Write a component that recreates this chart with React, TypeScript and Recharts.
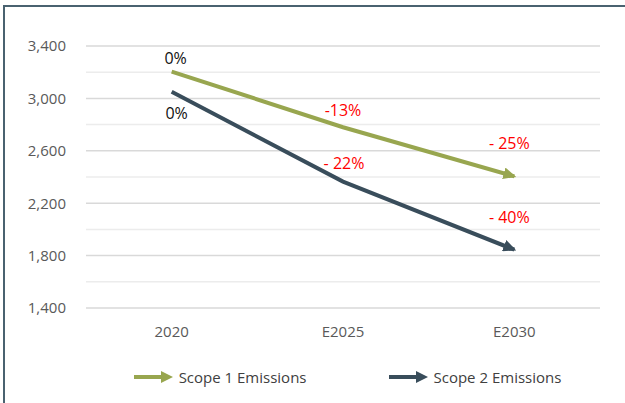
import { LineChart, Line, XAxis, YAxis, CartesianGrid, Legend, LabelList } from 'recharts'

// ── Data ─────────────────────────────────────────────────────────────

const CATEGORIES = ['2020', 'E2025', 'E2030']
const SCOPE1 = [3205, 2780, 2405]
const SCOPE2 = [3050, 2365, 1845]
const SCOPE1_LABELS = ['0%', '-13%', '- 25%']
const SCOPE2_LABELS = ['0%', '- 22%', '- 40%']
const Y_TICKS = [1400, 1800, 2200, 2600, 3000, 3400]
const Y_MINOR = [1600, 2000, 2400, 2800, 3200]

const data = CATEGORIES.map((cat, i) => ({
  cat,
  s1: SCOPE1[i],
  s2: SCOPE2[i],
  s1Label: SCOPE1_LABELS[i],
  s2Label: SCOPE2_LABELS[i],
}))

// ── Styling ──────────────────────────────────────────────────────────

const OLIVE = '#98a64f'
const SLATE = '#394d5b'
const FONT = '"Open Sans", "Noto Sans", sans-serif'

// label offsets (dx, dy) from each point, per series
const S1_OFFSETS = [[4, -14], [0, -17], [-5, -33]]
const S2_OFFSETS = [[5, 21], [1, -19], [-5, -33]]

const makeLabel = (offsets: number[][]) => (props: any) => {
  const { x, y, index, value } = props
  const [dx, dy] = offsets[index] ?? [0, 0]
  const isZero = value === '0%'
  return (
    <text
      x={x + dx}
      y={y + dy}
      textAnchor="middle"
      dominantBaseline="central"
      fontSize={16}
      fontFamily={FONT}
      fill={isZero ? '#111111' : '#ff0000'}
    >
      {value}
    </text>
  )
}

function ArrowIcon({ color }: { color: string }) {
  return (
    <svg width={40} height={14} style={{ display: 'block' }}>
      <line x1={0} y1={7} x2={30} y2={7} stroke={color} strokeWidth={4} />
      <polygon points="27,1 39,7 27,13" fill={color} />
    </svg>
  )
}

function LegendContent({ payload }: any) {
  return (
    <div style={{ display: 'flex', justifyContent: 'center', height: 24, alignItems: 'center', gap: 82, paddingLeft: 69 }}>
      {(payload ?? []).map((entry: any) => (
        <div key={entry.value} style={{ display: 'flex', alignItems: 'center', gap: 5 }}>
          <ArrowIcon color={entry.color} />
          <span style={{ fontFamily: FONT, fontSize: 15, color: '#404040' }}>{entry.value}</span>
        </div>
      ))}
    </div>
  )
}

export default function App() {
  return (
    <div style={{ position: 'absolute', left: 0, top: 0, width: 625, height: 403, background: '#fff' }}>
      <div style={{ position: 'absolute', left: 3, top: 5, right: 0, height: 2, background: '#4a6270' }} />
      <div style={{ position: 'absolute', left: 3, top: 5, bottom: 0, width: 2, background: '#4a6270' }} />
      <LineChart
        width={625}
        height={403}
        data={data}
        margin={{ top: 46, right: 25, bottom: 41, left: 26 }}
      >
        <defs>
          <marker id="arrowOlive" viewBox="0 0 13 12" refX={11} refY={6} markerWidth={13} markerHeight={12} markerUnits="userSpaceOnUse" orient="auto">
            <path d="M0,0 L13,6 L0,12 z" fill={OLIVE} />
          </marker>
          <marker id="arrowSlate" viewBox="0 0 13 12" refX={11} refY={6} markerWidth={13} markerHeight={12} markerUnits="userSpaceOnUse" orient="auto">
            <path d="M0,0 L13,6 L0,12 z" fill={SLATE} />
          </marker>
        </defs>
        <CartesianGrid vertical={false} horizontalValues={Y_MINOR} stroke="#ececec" strokeWidth={1.5} />
        <CartesianGrid vertical={false} horizontalValues={Y_TICKS} stroke="#d9d9d9" strokeWidth={1.5} />
        <XAxis
          dataKey="cat"
          scale="band"
          axisLine={false}
          tickLine={false}
          tickMargin={12}
          tick={{ fill: '#595959', fontSize: 15, fontFamily: FONT }}
        />
        <YAxis
          width={60}
          domain={[1400, 3400]}
          ticks={Y_TICKS}
          axisLine={false}
          tickLine={false}
          tickMargin={14}
          tickFormatter={(v: number) => v.toLocaleString('en-US')}
          tick={{ fill: '#595959', fontSize: 15, fontFamily: FONT }}
        />
        <Legend verticalAlign="bottom" content={<LegendContent />} wrapperStyle={{ bottom: 14 }} />
        <Line
          type="linear"
          dataKey="s1"
          name="Scope 1 Emissions"
          stroke={OLIVE}
          strokeWidth={4}
          strokeLinecap="butt"
          dot={false}
          activeDot={false}
          markerEnd="url(#arrowOlive)"
          isAnimationActive={false}
        >
          <LabelList dataKey="s1Label" content={makeLabel(S1_OFFSETS)} />
        </Line>
        <Line
          type="linear"
          dataKey="s2"
          name="Scope 2 Emissions"
          stroke={SLATE}
          strokeWidth={4}
          strokeLinecap="butt"
          dot={false}
          activeDot={false}
          markerEnd="url(#arrowSlate)"
          isAnimationActive={false}
        >
          <LabelList dataKey="s2Label" content={makeLabel(S2_OFFSETS)} />
        </Line>
      </LineChart>
    </div>
  )
}
